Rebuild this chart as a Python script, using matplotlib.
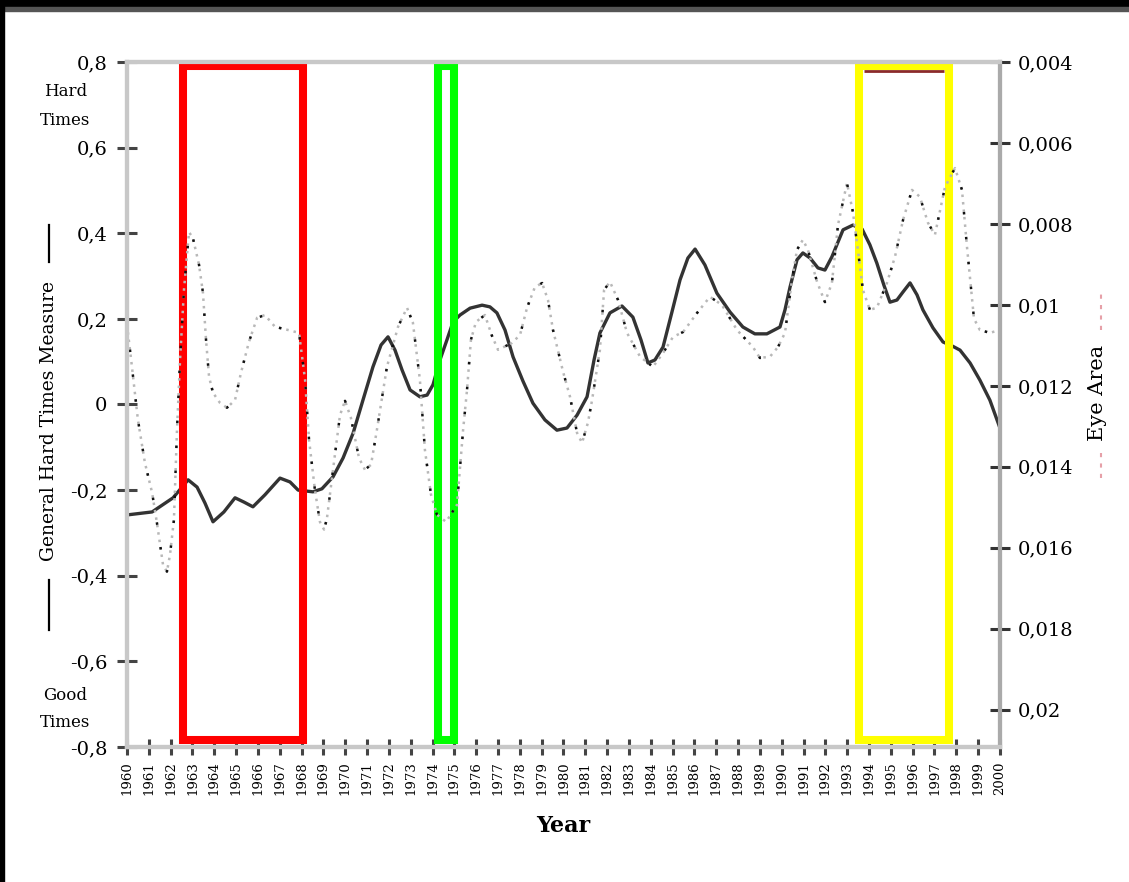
import numpy as np
import matplotlib.pyplot as plt
from matplotlib.patches import Rectangle
from matplotlib.lines import Line2D

plt.rcParams['font.family'] = ['DejaVu Serif']

# General Hard Times Measure (left axis)
hard_years = [1960.0, 1961.15, 1962.11, 1962.8, 1963.21, 1963.57, 1963.94, 1964.44, 1964.95, 1965.36,
              1965.77, 1966.32, 1967.01, 1967.47, 1967.84, 1968.52, 1968.93, 1969.44, 1969.9, 1970.36,
              1970.81, 1971.27, 1971.64, 1971.96, 1972.28, 1972.6, 1972.97, 1973.42, 1973.75, 1974.02,
              1974.34, 1974.66, 1974.94, 1975.26, 1975.72, 1976.27, 1976.63, 1976.95, 1977.32, 1977.69,
              1978.14, 1978.6, 1979.15, 1979.7, 1980.16, 1980.62, 1981.08, 1981.4, 1981.67, 1982.13,
              1982.68, 1983.18, 1983.55, 1983.87, 1984.19, 1984.56, 1984.97, 1985.34, 1985.7, 1986.03,
              1986.48, 1987.03, 1987.63, 1988.22, 1988.77, 1989.32, 1989.92, 1990.15, 1990.38, 1990.7,
              1990.97, 1991.3, 1991.66, 1991.98, 1992.3, 1992.81, 1993.26, 1993.68, 1994.04, 1994.36,
              1994.68, 1994.96, 1995.28, 1995.56, 1995.88, 1996.2, 1996.47, 1996.93, 1997.39, 1997.8,
              1998.17, 1998.63, 1999.08, 1999.54, 2000.0]
hard_vals = [-0.258, -0.251, -0.218, -0.176, -0.193, -0.230, -0.274, -0.251, -0.218, -0.228,
             -0.239, -0.211, -0.172, -0.181, -0.200, -0.204, -0.197, -0.169, -0.125, -0.067,
             0.010, 0.088, 0.139, 0.158, 0.127, 0.081, 0.034, 0.018, 0.022, 0.046,
             0.104, 0.151, 0.193, 0.209, 0.225, 0.232, 0.228, 0.214, 0.174, 0.111,
             0.055, 0.003, -0.036, -0.060, -0.055, -0.025, 0.018, 0.104, 0.167, 0.214,
             0.230, 0.204, 0.151, 0.097, 0.104, 0.134, 0.216, 0.291, 0.342, 0.363,
             0.326, 0.260, 0.216, 0.181, 0.165, 0.165, 0.181, 0.221, 0.274, 0.338,
             0.354, 0.342, 0.319, 0.314, 0.345, 0.408, 0.419, 0.410, 0.373, 0.330,
             0.279, 0.239, 0.244, 0.263, 0.284, 0.256, 0.221, 0.179, 0.146, 0.137,
             0.127, 0.097, 0.057, 0.010, -0.055]

# Eye Area (right axis, inverted)
eye_years = [1960.0, 1960.18, 1960.5, 1960.82, 1961.15, 1961.37, 1961.65, 1961.83, 1961.97, 1962.15,
             1962.29, 1962.43, 1962.61, 1962.84, 1963.02, 1963.3, 1963.48, 1963.62, 1963.76, 1963.94,
             1964.26, 1964.58, 1964.95, 1965.22, 1965.59, 1965.96, 1966.32, 1966.78, 1967.38, 1967.88,
             1968.16, 1968.34, 1968.61, 1968.84, 1969.03, 1969.16, 1969.44, 1969.76, 1969.99, 1970.26,
             1970.63, 1970.9, 1971.18, 1971.45, 1971.91, 1972.42, 1972.83, 1973.1, 1973.42, 1973.65,
             1973.93, 1974.2, 1974.62, 1975.12, 1975.4, 1975.58, 1975.76, 1975.99, 1976.4, 1976.72,
             1977.0, 1977.64, 1978.01, 1978.33, 1978.69, 1979.02, 1979.29, 1979.52, 1979.98, 1980.3,
             1980.62, 1980.85, 1981.12, 1981.31, 1981.67, 1981.86, 1982.13, 1982.5, 1982.91, 1983.51,
             1984.1, 1984.56, 1985.02, 1985.48, 1986.12, 1986.71, 1987.26, 1987.95, 1988.68, 1989.0,
             1989.46, 1989.83, 1990.15, 1990.47, 1990.7, 1990.97, 1991.2, 1991.62, 1991.98, 1992.3,
             1992.58, 1992.99, 1993.26, 1993.49, 1993.72, 1994.04, 1994.36, 1994.82, 1995.19, 1995.56,
             1995.97, 1996.33, 1996.7, 1997.02, 1997.48, 1997.94, 1998.26, 1998.49, 1998.81, 1999.08,
             1999.54, 2000.0]
eye_vals = [0.01049, 0.01131, 0.01284, 0.01390, 0.01464, 0.01538, 0.01642, 0.01659, 0.01617, 0.01531,
            0.01309, 0.01136, 0.00963, 0.00820, 0.00835, 0.00901, 0.00970, 0.01086, 0.01178, 0.01217,
            0.01242, 0.01254, 0.01235, 0.01168, 0.01091, 0.01032, 0.01025, 0.01054, 0.01062, 0.01069,
            0.01185, 0.01333, 0.01457, 0.01536, 0.01555, 0.01528, 0.01407, 0.01272, 0.01237, 0.01279,
            0.01378, 0.01407, 0.01395, 0.01309, 0.01153, 0.01054, 0.01007, 0.01044, 0.01185, 0.01358,
            0.01469, 0.01518, 0.01536, 0.01494, 0.01309, 0.01210, 0.01086, 0.01042, 0.01025, 0.01076,
            0.01111, 0.01094, 0.01074, 0.01007, 0.00956, 0.00946, 0.00988, 0.01062, 0.01165, 0.01227,
            0.01316, 0.01341, 0.01291, 0.01235, 0.01111, 0.00963, 0.00943, 0.00988, 0.01069, 0.01128,
            0.01153, 0.01119, 0.01079, 0.01067, 0.01020, 0.00980, 0.01000, 0.01062, 0.01104, 0.01131,
            0.01128, 0.01104, 0.01069, 0.00938, 0.00864, 0.00839, 0.00864, 0.00943, 0.00993, 0.00946,
            0.00802, 0.00699, 0.00770, 0.00864, 0.00963, 0.01012, 0.01007, 0.00946, 0.00881, 0.00790,
            0.00716, 0.00733, 0.00797, 0.00827, 0.00709, 0.00662, 0.00716, 0.00857, 0.01034, 0.01062,
            0.01069, 0.01062]

years = list(range(1960, 2001))
left_ticks = [0.8, 0.6, 0.4, 0.2, 0, -0.2, -0.4, -0.6, -0.8]
left_labels = ['0,8', '0,6', '0,4', '0,2', '0', '-0,2', '-0,4', '-0,6', '-0,8']
right_ticks = [0.004, 0.006, 0.008, 0.01, 0.012, 0.014, 0.016, 0.018, 0.02]
right_labels = ['0,004', '0,006', '0,008', '0,01', '0,012', '0,014', '0,016', '0,018', '0,02']

# highlighted periods (start year, end year, colour)
boxes = [(1962.57, 1968.07, '#ff0000'), (1974.27, 1974.98, '#00ff00'), (1993.54, 1997.66, '#ffff00')]

fig = plt.figure(figsize=(11.29, 8.82), dpi=100)
ax = fig.add_axes([0.1125, 0.1531, 0.7732, 0.7766])
ax2 = ax.twinx()

ax.plot(hard_years, hard_vals, color='#333333', lw=2.4, zorder=3)
ax2.plot(eye_years, eye_vals, color='#b8b8b8', lw=1.8, ls=(0, (1, 2)), zorder=2)
ax2.plot(eye_years, eye_vals, color='#111111', lw=1.8, ls=(0, (1, 9)), zorder=2)

ax.set_xlim(1960, 2000)
ax.set_ylim(-0.8, 0.8)
ax2.set_ylim(0.02092, 0.004)

ax.set_xticks(years)
ax.set_xticklabels([str(y) for y in years], rotation=90, fontsize=9.5)
ax.set_yticks(left_ticks)
ax.set_yticklabels(left_labels, fontsize=14)
ax2.set_yticks(right_ticks)
ax2.set_yticklabels(right_labels, fontsize=14)

ax.tick_params(axis='x', direction='inout', length=11, width=2.2, color='#444444', pad=5)
ax.tick_params(axis='y', direction='inout', length=14, width=2.2, color='#444444', pad=7)
ax2.tick_params(axis='y', direction='inout', length=14, width=2.2, color='#333333', pad=6)

for a in (ax, ax2):
    for s in a.spines.values():
        s.set_color('#c8c8c8')
        s.set_linewidth(3)
ax2.spines['right'].set_color('#aaaaaa')

ax.set_xlabel('Year', fontsize=16, fontweight='bold', labelpad=14)

# rectangles over the lines
for x0, x1, c in boxes:
    ax.add_patch(Rectangle((x0, -0.784), x1 - x0, 1.575, fill=False, edgecolor=c,
                           lw=5.8, zorder=10, clip_on=False))
ax.hlines(0.779, 1993.75, 1997.45, color='#8b2a2a', lw=2, zorder=9)

# axis titles with their line keys
fig.text(0.043, 0.523, 'General Hard Times Measure', rotation=90, fontsize=13.5,
         ha='center', va='center')
fig.add_artist(Line2D([0.043, 0.043], [0.286, 0.342], color='black', lw=1.6))
fig.add_artist(Line2D([0.043, 0.043], [0.703, 0.745], color='black', lw=1.6))
fig.text(0.972, 0.555, 'Eye Area', rotation=90, fontsize=15, ha='center', va='center')
fig.add_artist(Line2D([0.975, 0.975], [0.626, 0.671], color='#e6a0a8', lw=1.5, ls=(0, (2, 3))))
fig.add_artist(Line2D([0.975, 0.975], [0.458, 0.490], color='#e6a0a8', lw=1.5, ls=(0, (2, 3))))

fig.text(0.058, 0.880, 'Hard\nTimes', fontsize=12, ha='center', va='center', linespacing=1.9)
fig.text(0.058, 0.196, 'Good\nTimes', fontsize=12, ha='center', va='center', linespacing=1.8)

# dark frame of the screenshot
fig.add_artist(Rectangle((0, 1 - 7 / 882), 1, 7 / 882, transform=fig.transFigure, color='black'))
fig.add_artist(Rectangle((0, 1 - 11 / 882), 1, 4 / 882, transform=fig.transFigure, color='#555555'))
fig.add_artist(Rectangle((0, 0), 4 / 1129, 1, transform=fig.transFigure, color='black'))

fig.savefig('out.png', dpi=100)
